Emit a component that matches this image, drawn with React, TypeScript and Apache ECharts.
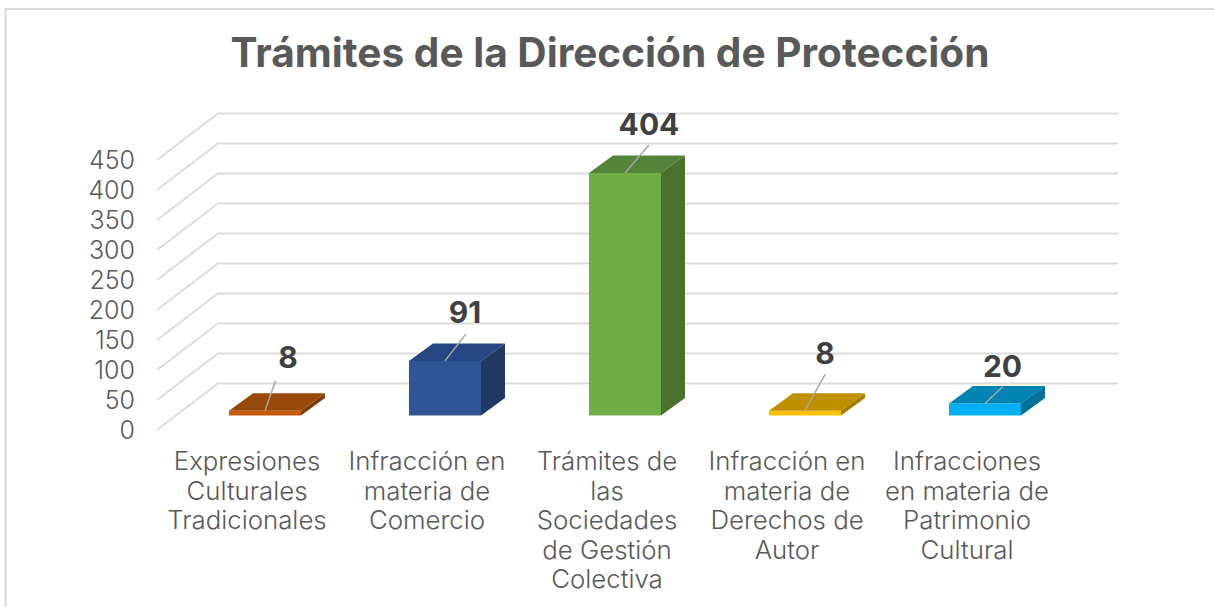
import React, { useEffect, useRef } from "react";
import * as echarts from "echarts";

const titleText = "Trámites de la Dirección de Protección";
const categories = [
  "Expresiones\nCulturales\nTradicionales",
  "Infracción en\nmateria de\nComercio",
  "Trámites de\nlas\nSociedades\nde Gestión\nColectiva",
  "Infracción en\nmateria de\nDerechos de\nAutor",
  "Infracciones\nen materia de\nPatrimonio\nCultural",
];
const values = [8, 91, 404, 8, 20];
const ticks = [0, 50, 100, 150, 200, 250, 300, 350, 400, 450];
const frontColors = ["#C55A11", "#2F5597", "#70AD47", "#FFC000", "#00B0F0"];
const topColors = ["#984807", "#264784", "#54833A", "#BF9000", "#0084B4"];
const sideColors = ["#7F3F0C", "#1F3864", "#4A712E", "#A67D00", "#00719A"];
const labelDx = [23, 20, 24, 20, 17.5];
const labelDy = [-53.5, -49, -49.5, -58, -38];
const leaderDx = [10.5, 21, 24, 20, 18];
const leaderDy = [-30, -27, -28, -36, -17];

const FONT = "Inter";
const WALL_DX = 61;
const WALL_DY = -46.5;
const FLOOR_DX = 18;
const FLOOR_DY = -14.5;
const BAR_DX = 24;
const BAR_DY = -17.5;

export default function App() {
  const ref = useRef<HTMLDivElement>(null);
  useEffect(() => {
    const chart = echarts.init(ref.current!, null, { renderer: "svg" });
    chart.setOption({
      animation: false,
      backgroundColor: "#fff",
      title: {
        text: titleText,
        left: 605,
        top: 47,
        textAlign: "center",
        textVerticalAlign: "middle",
        textStyle: { fontFamily: FONT, fontWeight: 700, fontSize: 40.6, color: "#595959" },
      },
      graphic: [
        {
          type: "polyline",
          silent: true,
          shape: { points: [[5.5, 607], [5.5, 9], [1214, 9]] },
          style: { stroke: "#D9D9D9", lineWidth: 2, fill: "none" },
        },
      ],
      grid: { left: 157, top: 160, width: 900, height: 270 },
      xAxis: {
        type: "category",
        data: categories,
        axisLine: { show: false },
        axisTick: { show: false },
        axisLabel: {
          interval: 0,
          margin: 16,
          fontFamily: FONT,
          fontWeight: 300,
          fontSize: 25.8,
          lineHeight: 29.5,
          color: "#595959",
          align: "center",
          verticalAlign: "top",
        },
      },
      yAxis: {
        type: "value",
        min: 0,
        max: 450,
        interval: 50,
        splitLine: { show: false },
        axisLine: { show: false },
        axisTick: { show: false },
        axisLabel: { margin: 22, fontFamily: FONT, fontWeight: 300, fontSize: 25, color: "#595959" },
      },
      series: [
        {
          type: "custom",
          z: 1,
          silent: true,
          data: ticks,
          encode: { y: 0 },
          renderItem: (params: any, api: any) => {
            const y = api.coord([0, api.value(0)])[1];
            const left = params.coordSys.x;
            const right = left + params.coordSys.width;
            return {
              type: "polyline",
              shape: {
                points: [
                  [left, y],
                  [left + WALL_DX, y + WALL_DY],
                  [right + WALL_DX, y + WALL_DY],
                ],
              },
              style: { stroke: "#DCDCDC", lineWidth: 2, fill: "none" },
            };
          },
        },
        {
          type: "custom",
          z: 2,
          silent: true,
          data: values.map((v, i) => [i, v]),
          encode: { x: 0, y: 1 },
          renderItem: (params: any, api: any) => {
            const i = params.dataIndex;
            const center = api.coord([api.value(0), 0]);
            const top = api.coord([api.value(0), api.value(1)]);
            const w = api.size([1, 0])[0] * 0.4;
            const cx = center[0] + FLOOR_DX;
            const x0 = cx - w / 2;
            const x1 = cx + w / 2;
            const yb = center[1] + FLOOR_DY;
            const yt = top[1] + FLOOR_DY;
            const poly = (points: number[][], fill: string) => ({
              type: "polygon",
              shape: { points },
              style: { fill },
            });
            return {
              type: "group",
              children: [
                poly([[x0, yb], [x1, yb], [x1, yt], [x0, yt]], frontColors[i]),
                poly([[x0, yt], [x1, yt], [x1 + BAR_DX, yt + BAR_DY], [x0 + BAR_DX, yt + BAR_DY]], topColors[i]),
                poly([[x1, yb], [x1 + BAR_DX, yb + BAR_DY], [x1 + BAR_DX, yt + BAR_DY], [x1, yt]], sideColors[i]),
                {
                  type: "line",
                  shape: { x1: cx, y1: yt, x2: cx + leaderDx[i], y2: yt + leaderDy[i] },
                  style: { stroke: "#A6A6A6", lineWidth: 1.5 },
                },
                {
                  type: "text",
                  x: cx + labelDx[i],
                  y: yt + labelDy[i],
                  style: {
                    text: String(api.value(1)),
                    fontFamily: FONT,
                    fontWeight: 700,
                    fontSize: 30,
                    fill: "#404040",
                    align: "center",
                    verticalAlign: "middle",
                  },
                },
              ],
            };
          },
        },
      ],
    });
    return () => chart.dispose();
  }, []);
  return <div ref={ref} style={{ position: "absolute", left: 0, top: 0, width: 1214, height: 607 }} />;
}
